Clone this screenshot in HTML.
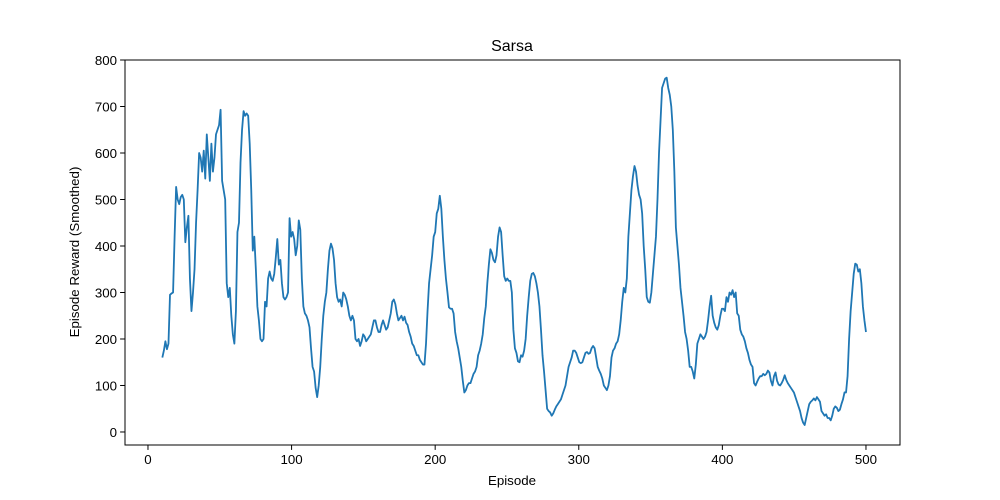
<!DOCTYPE html>
<html><head><meta charset="utf-8"><style>
body{margin:0;background:#fff}
svg{display:block;font-family:"Liberation Sans","DejaVu Sans",sans-serif}
</style></head><body>
<svg id="chart" width="1000" height="500">
<rect width="1000" height="500" fill="#fff"/>
<text x="512" y="51" font-size="16" text-anchor="middle">Sarsa</text>
<text x="512" y="485" font-size="13.3" text-anchor="middle">Episode</text>
<text transform="translate(79,252) rotate(-90)" font-size="13.3" text-anchor="middle">Episode Reward (Smoothed)</text>
<g id="ticks"></g>
<path id="line" fill="none" stroke="#1f77b4" stroke-width="1.8" stroke-linejoin="round"/>
<rect x="125" y="60" width="775" height="385" fill="none" stroke="#000" stroke-width="1"/>
</svg>
<script>
const xTicks=[0,100,200,300,400,500];
const yTicks=[0,100,200,300,400,500,600,700,800];
const rewards=[160,175,195,178,190,295,298,300,420,527,500,490,505,510,500,408,440,465,330,260,300,350,450,520,600,590,560,605,545,640,590,540,620,560,590,640,650,660,693,540,520,500,320,290,310,250,210,190,260,430,450,580,650,690,680,685,680,620,520,390,420,350,270,240,200,195,200,280,270,330,345,330,325,340,375,415,360,370,320,290,285,290,300,460,420,430,415,380,400,455,435,330,270,255,250,240,225,180,140,130,95,75,100,140,200,250,280,300,350,390,405,395,370,320,290,280,285,270,300,295,285,270,250,240,250,240,200,195,200,185,195,210,205,195,200,205,210,225,240,240,225,215,215,230,240,230,220,225,240,255,280,285,275,255,240,245,250,240,248,235,230,215,205,190,185,175,165,165,155,150,145,145,190,260,320,350,380,420,430,470,480,508,480,420,370,330,300,268,265,265,255,215,195,180,160,140,110,85,90,100,105,105,115,125,130,140,165,175,190,210,245,270,320,360,393,385,370,365,380,420,440,430,380,335,325,330,325,325,300,220,180,170,152,150,165,162,175,200,250,290,325,340,342,335,320,300,270,220,165,130,90,50,45,42,35,40,48,55,60,65,70,80,90,100,120,140,150,160,175,175,170,160,150,148,150,160,170,172,168,170,180,185,180,160,140,132,125,115,100,95,90,100,120,160,175,180,190,195,210,240,280,310,300,330,420,470,520,550,572,560,530,510,500,470,400,350,290,280,278,300,340,380,420,500,600,670,740,750,760,762,740,725,700,650,560,440,400,360,310,280,250,215,200,175,140,140,130,115,145,190,200,210,205,200,205,215,240,270,293,250,235,225,220,230,250,265,265,260,290,280,300,295,305,290,300,255,250,220,210,205,195,180,170,155,145,140,105,100,108,115,120,120,125,122,125,132,128,110,100,120,128,110,102,100,105,112,122,112,105,100,95,90,85,75,65,55,45,30,20,15,30,45,60,65,68,72,68,75,70,65,45,40,35,38,30,30,25,35,50,55,52,45,48,60,70,85,85,120,200,260,300,340,362,360,345,350,320,270,240,215];
const episodes=rewards.map((_,i)=>10+i*490/(rewards.length-1));
const L=125,R=900,T=60,B=445,xmin=-16,xmax=523.7,ymin=-28,ymax=800;
const sx=v=>L+(v-xmin)/(xmax-xmin)*(R-L);
const sy=v=>B-(v-ymin)/(ymax-ymin)*(B-T);
const NS='http://www.w3.org/2000/svg';
const g=document.getElementById('ticks');
function mk(tag,attrs,parent){const e=document.createElementNS(NS,tag);for(const k in attrs)e.setAttribute(k,attrs[k]);parent.appendChild(e);return e;}
xTicks.forEach(t=>{
  const l=mk('line',{x1:sx(t),x2:sx(t),y1:B,y2:B+4.9,stroke:'#000'},g);
  
  
  const tx=mk('text',{x:sx(t),y:B+19,'font-size':13.3,'text-anchor':'middle'},g);
  tx.textContent=t;
  
  
});
yTicks.forEach(t=>{
  const l=mk('line',{x1:L-4.9,x2:L,y1:sy(t),y2:sy(t),stroke:'#000'},g);
  
  
  const tx=mk('text',{x:L-8,y:sy(t)+5,'font-size':13.3,'text-anchor':'end'},g);
  tx.textContent=t;
  
  
});
document.getElementById('line').setAttribute('d',rewards.map((v,i)=>(i?'L':'M')+sx(episodes[i]).toFixed(2)+','+sy(v).toFixed(2)).join(''));
</script>
</body></html>
